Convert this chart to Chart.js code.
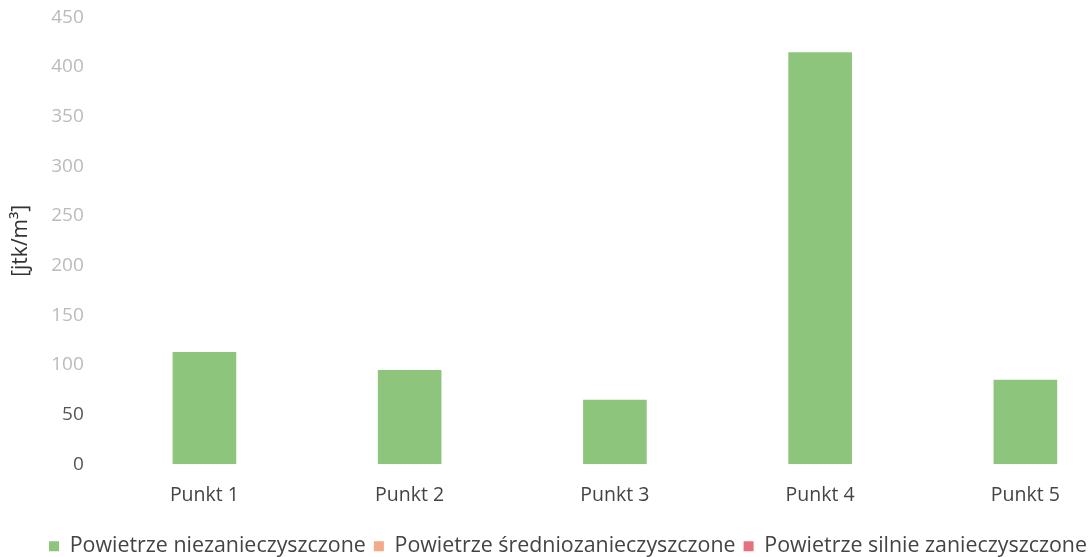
<!DOCTYPE html>
<html>
<head>
<meta charset="utf-8">
<script src="https://cdn.jsdelivr.net/npm/chart.js@4"></script>
<style>
  html, body { margin: 0; padding: 0; background: #fff; overflow: hidden; }
  #wrap { position: relative; top: -12px; width: 1134px; height: 572px; }
</style>
</head>
<body>
<div id="wrap"><canvas id="chart"></canvas></div>
<script>
const categories = ['Punkt 1', 'Punkt 2', 'Punkt 3', 'Punkt 4', 'Punkt 5'];
const niezanieczyszczone = [113, 95, 65, 415, 85];
const sredniozanieczyszczone = [0, 0, 0, 0, 0];
const silnieZanieczyszczone = [0, 0, 0, 0, 0];
const seriesNames = ['Powietrze niezanieczyszczone', 'Powietrze średniozanieczyszczone', 'Powietrze silnie zanieczyszczone'];
const yTicks = [0, 50, 100, 150, 200, 250, 300, 350, 400, 450];

const font = "'Open Sans', sans-serif";

new Chart(document.getElementById('chart'), {
  type: 'bar',
  data: {
    labels: categories,
    datasets: [
      { label: seriesNames[0], data: niezanieczyszczone, backgroundColor: '#8dc57c' },
      { label: seriesNames[1], data: sredniozanieczyszczone, backgroundColor: '#f4a98a' },
      { label: seriesNames[2], data: silnieZanieczyszczone, backgroundColor: '#e8707e' }
    ]
  },
  options: {
    responsive: true,
    maintainAspectRatio: false,
    animation: false,
    datasets: { bar: { categoryPercentage: 1, barPercentage: 0.31 } },
    layout: { padding: { top: 0, right: 6, left: 8, bottom: -7 } },
    plugins: {
      tooltip: { enabled: false },
      legend: {
        position: 'bottom',
        labels: {
          font: { family: font, size: 21.4 },
          color: '#444',
          boxWidth: 10,
          boxHeight: 10,
          padding: 8
        }
      }
    },
    scales: {
      x: {
        stacked: true,
        grid: { display: false, drawTicks: false },
        border: { display: false },
        ticks: { font: { family: font, size: 19.5 }, color: '#444', padding: 20 }
      },
      y: {
        stacked: true,
        min: 0,
        max: 450,
        afterBuildTicks: axis => { axis.ticks = yTicks.map(v => ({ value: v })); },
        grid: { display: false, drawTicks: false },
        border: { display: false },
        title: {
          display: true,
          text: '[jtk/m³]',
          font: { family: font, size: 21 },
          color: '#333',
          padding: 0
        },
        ticks: {
          font: { family: font, size: 19 },
          color: ctx => ctx.tick.value <= 50 ? '#555' : '#bbb',
          padding: 18
        }
      }
    }
  }
});
</script>
</body>
</html>
